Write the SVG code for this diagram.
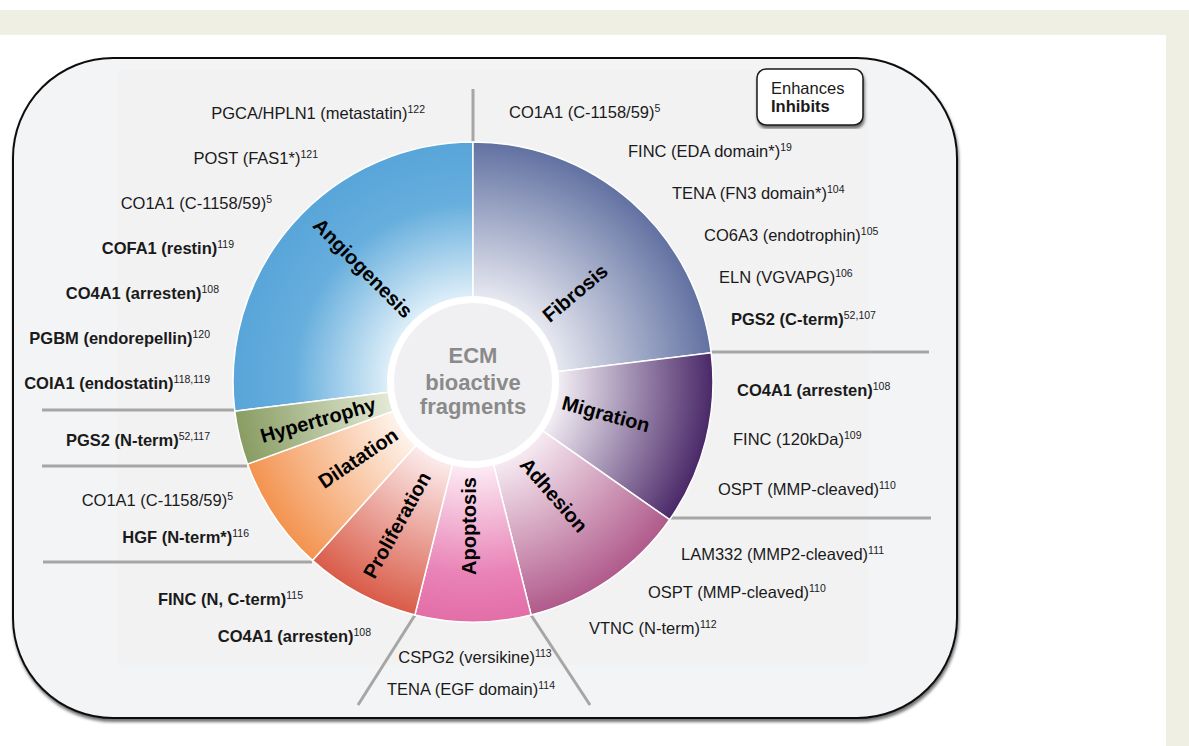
<svg xmlns="http://www.w3.org/2000/svg" width="1189" height="746" viewBox="0 0 1189 746">
<defs>
<style>
.t{font-family:"Liberation Sans",Arial,sans-serif;font-size:16.5px;fill:#1a1a1a}
.b{font-weight:bold}
.sup{font-size:10.5px}
.e{text-anchor:end}
.m{text-anchor:middle}
.lab{font-family:"Liberation Sans",Arial,sans-serif;font-size:20px;font-weight:bold;fill:#000;text-anchor:middle}
.gl{stroke:#a6a6a6;stroke-width:3;fill:none}
.sec{stroke:#fff;stroke-width:1.5}
</style>
<filter id="sh" x="-5%" y="-5%" width="110%" height="112%">
<feDropShadow dx="1" dy="3" stdDeviation="1.5" flood-color="#000" flood-opacity="0.55"/>
</filter>
<radialGradient id="gAng" gradientUnits="userSpaceOnUse" cx="473" cy="382" r="240"><stop offset="0.3" stop-color="#eef7fc"/><stop offset="0.75" stop-color="#66aedd"/><stop offset="1" stop-color="#58a5d9"/></radialGradient>
<radialGradient id="gFib" gradientUnits="userSpaceOnUse" cx="473" cy="382" r="240"><stop offset="0.3" stop-color="#f2f2f7"/><stop offset="1" stop-color="#6171a1"/></radialGradient>
<radialGradient id="gMig" gradientUnits="userSpaceOnUse" cx="473" cy="382" r="240"><stop offset="0.35" stop-color="#f3eff5"/><stop offset="1" stop-color="#4a2868"/></radialGradient>
<radialGradient id="gAdh" gradientUnits="userSpaceOnUse" cx="473" cy="382" r="240"><stop offset="0.35" stop-color="#f6ebf2"/><stop offset="1" stop-color="#b05a8b"/></radialGradient>
<radialGradient id="gApo" gradientUnits="userSpaceOnUse" cx="473" cy="382" r="240"><stop offset="0.35" stop-color="#fcecf4"/><stop offset="0.8" stop-color="#e983b7"/><stop offset="1" stop-color="#e36ea7"/></radialGradient>
<radialGradient id="gPro" gradientUnits="userSpaceOnUse" cx="473" cy="382" r="240"><stop offset="0.35" stop-color="#fcecec"/><stop offset="1" stop-color="#d95b48"/></radialGradient>
<radialGradient id="gDil" gradientUnits="userSpaceOnUse" cx="473" cy="382" r="240"><stop offset="0.35" stop-color="#fef3ec"/><stop offset="1" stop-color="#f3934f"/></radialGradient>
<radialGradient id="gHyp" gradientUnits="userSpaceOnUse" cx="473" cy="382" r="240"><stop offset="0.35" stop-color="#e4ead6"/><stop offset="1" stop-color="#889c62"/></radialGradient>
</defs>
<rect x="0" y="0" width="1189" height="746" fill="#fff"/>
<rect x="0" y="10" width="1189" height="25" fill="#efefe3"/>
<rect x="1166" y="35" width="23" height="711" fill="#efefe3"/>
<g id="frame">
<rect x="13" y="58" width="944" height="660" rx="100" ry="100" fill="#f3f4f6" stroke="#111" stroke-width="2" filter="url(#sh)"/>
<rect x="117" y="70" width="751" height="595" fill="#f2f2f3"/>
</g>
<g id="connectors">
<line class="gl" x1="473" y1="89" x2="473" y2="142"/>
<line class="gl" x1="711" y1="352" x2="929" y2="352"/>
<line class="gl" x1="669" y1="518" x2="931" y2="518"/>
<line class="gl" x1="531" y1="615" x2="590" y2="705"/>
<line class="gl" x1="415" y1="615" x2="358" y2="705"/>
<line class="gl" x1="42" y1="410" x2="235" y2="410"/>
<line class="gl" x1="42" y1="466" x2="247" y2="466"/>
<line class="gl" x1="43" y1="562" x2="312" y2="562"/>
</g>
<g id="wheel">
<g id="angiogenesis"><path class="sec" fill="url(#gAng)" d="M473 382 L234.8 411.2 A240 240 0 0 1 473 142 Z"/><text class="lab" transform="translate(363,268) rotate(45)" y="7">Angiogenesis</text></g>
<g id="fibrosis"><path class="sec" fill="url(#gFib)" d="M473 382 L473 142 A240 240 0 0 1 711.2 352.8 Z"/><text class="lab" transform="translate(575,293) rotate(-40)" y="7">Fibrosis</text></g>
<g id="migration"><path class="sec" fill="url(#gMig)" d="M473 382 L711.2 352.8 A240 240 0 0 1 669.6 519.7 Z"/><text class="lab" transform="translate(606,414) rotate(15)" y="7">Migration</text></g>
<g id="adhesion"><path class="sec" fill="url(#gAdh)" d="M473 382 L669.6 519.7 A240 240 0 0 1 531.1 614.9 Z"/><text class="lab" transform="translate(554,495) rotate(49)" y="7">Adhesion</text></g>
<g id="apoptosis"><path class="sec" fill="url(#gApo)" d="M473 382 L531.1 614.9 A240 240 0 0 1 414.9 614.9 Z"/><text class="lab" transform="translate(469,526) rotate(-90)" y="7">Apoptosis</text></g>
<g id="proliferation"><path class="sec" fill="url(#gPro)" d="M473 382 L414.9 614.9 A240 240 0 0 1 312.4 560.4 Z"/><text class="lab" transform="translate(397,525) rotate(-61)" y="7">Proliferation</text></g>
<g id="dilatation"><path class="sec" fill="url(#gDil)" d="M473 382 L312.4 560.4 A240 240 0 0 1 247.5 464.1 Z"/><text class="lab" transform="translate(358,458) rotate(-34)" y="7">Dilatation</text></g>
<g id="hypertrophy"><path class="sec" fill="url(#gHyp)" d="M473 382 L247.5 464.1 A240 240 0 0 1 234.8 411.2 Z"/><text class="lab" transform="translate(318,420) rotate(-16)" y="7">Hypertrophy</text></g>
<g id="center">
<circle cx="473" cy="382" r="86" fill="#fff"/>
<circle cx="473" cy="382" r="79" fill="#f0f0f2"/>
<text x="473" y="363" style="font-family:'Liberation Sans',Arial,sans-serif;font-size:22px;font-weight:bold;fill:#8a8a8a;text-anchor:middle">ECM</text>
<text x="473" y="390" style="font-family:'Liberation Sans',Arial,sans-serif;font-size:22px;font-weight:bold;fill:#8a8a8a;text-anchor:middle">bioactive</text>
<text x="473" y="414" style="font-family:'Liberation Sans',Arial,sans-serif;font-size:22px;font-weight:bold;fill:#8a8a8a;text-anchor:middle">fragments</text>
</g>
</g>
<g id="legend">
<rect x="757" y="69" width="106" height="56" rx="9" fill="#fff" stroke="#1a1a1a" stroke-width="1.5" filter="url(#sh)"/>
<text class="t" x="771" y="94">Enhances</text>
<text class="t b" x="771" y="112">Inhibits</text>
</g>
<g id="labels-left">
<text class="t e" x="425" y="119">PGCA/HPLN1 (metastatin)<tspan class="sup" dy="-6">122</tspan></text>
<text class="t e" x="318" y="164">POST (FAS1*)<tspan class="sup" dy="-6">121</tspan></text>
<text class="t e" x="272" y="209">CO1A1 (C-1158/59)<tspan class="sup" dy="-6">5</tspan></text>
<text class="t b e" x="234" y="254">COFA1 (restin)<tspan class="sup" dy="-6" font-weight="normal">119</tspan></text>
<text class="t b e" x="219" y="299">CO4A1 (arresten)<tspan class="sup" dy="-6" font-weight="normal">108</tspan></text>
<text class="t b e" x="210" y="344">PGBM (endorepellin)<tspan class="sup" dy="-6" font-weight="normal">120</tspan></text>
<text class="t b e" x="210" y="389">COIA1 (endostatin)<tspan class="sup" dy="-6" font-weight="normal">118,119</tspan></text>
<text class="t b e" x="210" y="446">PGS2 (N-term)<tspan class="sup" dy="-6" font-weight="normal">52,117</tspan></text>
<text class="t e" x="233" y="506">CO1A1 (C-1158/59)<tspan class="sup" dy="-6">5</tspan></text>
<text class="t b e" x="249" y="543">HGF (N-term*)<tspan class="sup" dy="-6" font-weight="normal">116</tspan></text>
<text class="t b e" x="303" y="605">FINC (N, C-term)<tspan class="sup" dy="-6" font-weight="normal">115</tspan></text>
<text class="t b e" x="371" y="642">CO4A1 (arresten)<tspan class="sup" dy="-6" font-weight="normal">108</tspan></text>
</g>
<g id="labels-right">
<text class="t" x="509" y="118">CO1A1 (C-1158/59)<tspan class="sup" dy="-6">5</tspan></text>
<text class="t" x="628" y="157">FINC (EDA domain*)<tspan class="sup" dy="-6">19</tspan></text>
<text class="t" x="672" y="199">TENA (FN3 domain*)<tspan class="sup" dy="-6">104</tspan></text>
<text class="t" x="704" y="241">CO6A3 (endotrophin)<tspan class="sup" dy="-6">105</tspan></text>
<text class="t" x="719" y="283">ELN (VGVAPG)<tspan class="sup" dy="-6">106</tspan></text>
<text class="t b" x="731" y="325">PGS2 (C-term)<tspan class="sup" dy="-6" font-weight="normal">52,107</tspan></text>
<text class="t b" x="737" y="396">CO4A1 (arresten)<tspan class="sup" dy="-6" font-weight="normal">108</tspan></text>
<text class="t" x="733" y="445">FINC (120kDa)<tspan class="sup" dy="-6">109</tspan></text>
<text class="t" x="718" y="495">OSPT (MMP-cleaved)<tspan class="sup" dy="-6">110</tspan></text>
<text class="t" x="681" y="560">LAM332 (MMP2-cleaved)<tspan class="sup" dy="-6">111</tspan></text>
<text class="t" x="648" y="598">OSPT (MMP-cleaved)<tspan class="sup" dy="-6">110</tspan></text>
<text class="t" x="589" y="634">VTNC (N-term)<tspan class="sup" dy="-6">112</tspan></text>
<text class="t m" x="475" y="663">CSPG2 (versikine)<tspan class="sup" dy="-6">113</tspan></text>
<text class="t m" x="471" y="695">TENA (EGF domain)<tspan class="sup" dy="-6">114</tspan></text>
</g>
</svg>
